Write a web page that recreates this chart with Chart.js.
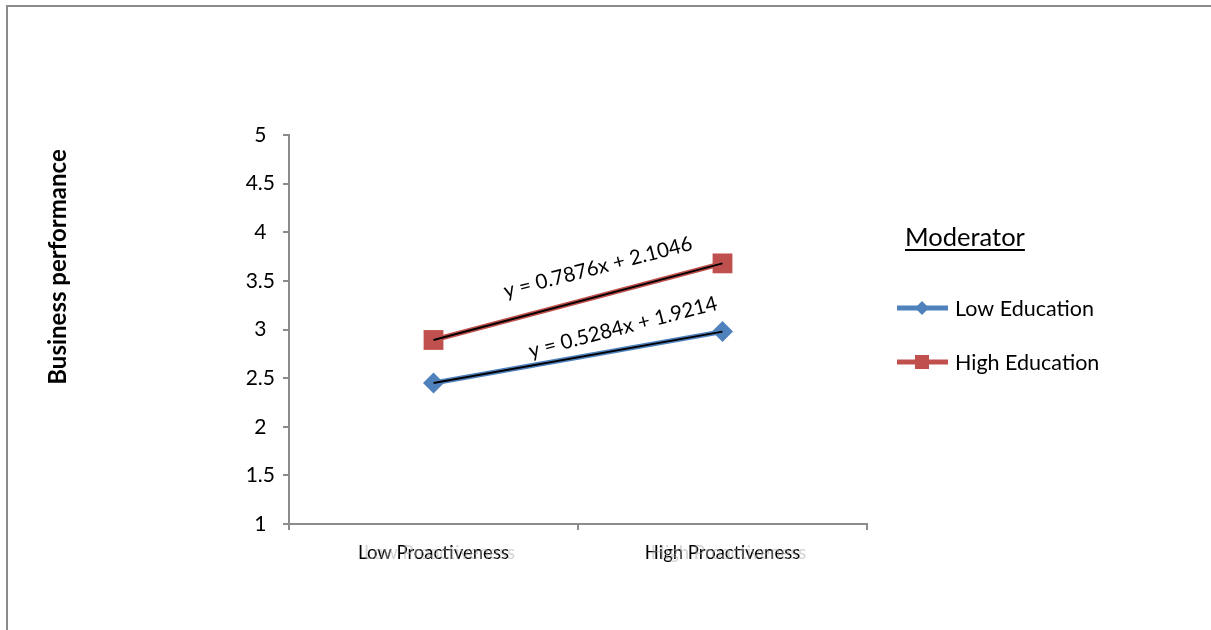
<!DOCTYPE html>
<html>
<head>
<meta charset="utf-8">
<script src="https://cdn.jsdelivr.net/npm/chart.js@4/dist/chart.umd.min.js"></script>
<style>
  html, body { margin: 0; padding: 0; background: #fff; overflow: hidden; }
  #wrap { position: relative; width: 1211px; height: 630px; }
  #frame { position: absolute; left: 6px; top: 5px; width: 1220px; height: 640px;
           border-top: 2px solid #8c8c8c; border-left: 2px solid #8c8c8c; box-sizing: border-box; }
  canvas { position: absolute; left: 0; top: 0; }
</style>
</head>
<body>
<div id="wrap">
  <div id="frame"></div>
  <canvas id="c" width="1211" height="630"></canvas>
</div>
<script>
const categories = ['Low Proactiveness', 'High Proactiveness'];
const lowEducation = [2.4498, 2.9782];
const highEducation = [2.8922, 3.6798];
const seriesNames = ['Low Education', 'High Education'];
const equations = ['y = 0.5284x + 1.9214', 'y = 0.7876x + 2.1046'];
const yMin = 1, yMax = 5, yStep = 0.5;

const FONT = 'Lato, "Open Sans", sans-serif';
const BLUE = '#4F81BD';
const RED = '#C0504D';
const X_LABEL_SIZE = 18.5;
const X_TICK_LEN = 6, X_TICK_PAD = 12;

// Extra drawing: axis title, ghosted category labels, equations and legend
const decor = {
  id: 'decor',
  beforeDatasetsDraw(chart) {
    // faint shadow copy of each category label, just right of the real one
    const ctx = chart.ctx;
    const x = chart.scales.x;
    const items = x.getLabelItems(chart.chartArea);
    ctx.save();
    items.forEach(it => {
      const o = it.options;
      ctx.font = it.font.string;
      ctx.fillStyle = 'rgba(170,170,170,0.5)';
      ctx.textAlign = o.textAlign;
      ctx.textBaseline = o.textBaseline;
      ctx.save();
      ctx.translate(o.translation[0] + 6, o.translation[1]);
      ctx.fillText(it.label, 0, it.textOffset || 0);
      ctx.restore();
    });
    ctx.restore();
  },
  afterDraw(chart) {
    const ctx = chart.ctx;
    const xs = chart.scales.x, ys = chart.scales.y;
    ctx.save();

    // y axis title
    ctx.save();
    ctx.translate(58, 267);
    ctx.rotate(-Math.PI / 2);
    ctx.font = 'bold 24px ' + FONT;
    ctx.fillStyle = '#000';
    ctx.textAlign = 'center';
    ctx.textBaseline = 'middle';
    ctx.fillText('Business performance', 0, 0);
    ctx.restore();

    // trend equations, placed above each line and rotated
    const sets = [lowEducation, highEducation];
    const offs = [{dx: 45, dy: -22}, {dx: 20, dy: -29}];
    sets.forEach((d, i) => {
      const x0 = xs.getPixelForValue(0), x1 = xs.getPixelForValue(1);
      const y0 = ys.getPixelForValue(d[0]), y1 = ys.getPixelForValue(d[1]);
      const mx = (x0 + x1) / 2 + offs[i].dx;
      const my = y0 + (y1 - y0) * ((mx - x0) / (x1 - x0)) + offs[i].dy;
      ctx.save();
      ctx.translate(mx, my);
      ctx.rotate(-14.5 * Math.PI / 180);
      ctx.font = '20.5px ' + FONT;
      ctx.fillStyle = '#000';
      ctx.textAlign = 'center';
      ctx.textBaseline = 'middle';
      ctx.fillText(equations[i], 0, 0);
      ctx.restore();
    });

    // legend
    ctx.font = '25.5px ' + FONT;
    ctx.fillStyle = '#000';
    ctx.textAlign = 'left';
    ctx.textBaseline = 'alphabetic';
    ctx.fillText('Moderator', 905, 246);
    const w = ctx.measureText('Moderator').width;
    ctx.fillRect(905, 249, w, 2);

    const items = [{y: 308, color: BLUE, shape: 'diamond'}, {y: 362, color: RED, shape: 'square'}];
    items.forEach((it, i) => {
      ctx.strokeStyle = it.color;
      ctx.lineWidth = 5;
      ctx.beginPath();
      ctx.moveTo(897, it.y);
      ctx.lineTo(948, it.y);
      ctx.stroke();
      ctx.fillStyle = it.color;
      ctx.beginPath();
      if (it.shape === 'diamond') {
        ctx.moveTo(922 - 7, it.y); ctx.lineTo(922, it.y - 7);
        ctx.lineTo(922 + 7, it.y); ctx.lineTo(922, it.y + 7);
        ctx.closePath();
      } else {
        ctx.rect(922 - 7, it.y - 7, 14, 14);
      }
      ctx.fill();
      ctx.fillStyle = '#000';
      ctx.font = '21.5px ' + FONT;
      ctx.textBaseline = 'middle';
      ctx.fillText(seriesNames[i], 955, it.y + 1);
    });
    ctx.restore();
  }
};

new Chart(document.getElementById('c'), {
  type: 'line',
  data: {
    labels: categories,
    datasets: [
      { label: seriesNames[0] + ' trend', data: lowEducation, borderColor: '#000', borderWidth: 2,
        pointRadius: 0, fill: false, order: 0 },
      { label: seriesNames[1] + ' trend', data: highEducation, borderColor: '#000', borderWidth: 2,
        pointRadius: 0, fill: false, order: 0 },
      { label: seriesNames[0], data: lowEducation, borderColor: BLUE, backgroundColor: BLUE,
        borderWidth: 5, pointStyle: 'rectRot', pointRadius: 10.5, pointBorderWidth: 0, fill: false, order: 1 },
      { label: seriesNames[1], data: highEducation, borderColor: RED, backgroundColor: RED,
        borderWidth: 5, pointStyle: 'rect', pointRadius: 14, pointBorderWidth: 0, fill: false, order: 1 }
    ]
  },
  options: {
    responsive: false,
    animation: false,
    layout: { padding: { top: 135, right: 344, bottom: 0, left: 0 } },
    plugins: { legend: { display: false }, tooltip: { enabled: false }, title: { display: false } },
    scales: {
      x: {
        type: 'category',
        offset: true,
        grid: { display: true, drawOnChartArea: false, drawTicks: true, tickLength: X_TICK_LEN,
                offset: true, color: '#8c8c8c', lineWidth: 2 },
        border: { display: true, color: '#8c8c8c', width: 2 },
        ticks: { color: '#000', font: { family: FONT, size: X_LABEL_SIZE }, padding: X_TICK_PAD, maxRotation: 0 },
        afterFit(s) { s.height = 106; }
      },
      y: {
        min: yMin, max: yMax,
        grid: { display: true, drawOnChartArea: false, drawTicks: true, tickLength: 6,
                color: '#8c8c8c', lineWidth: 2 },
        border: { display: true, color: '#8c8c8c', width: 2 },
        ticks: { stepSize: yStep, color: '#000', font: { family: FONT, size: 21 }, padding: 8,
                 crossAlign: 'center', callback: v => String(v) },
        afterFit(s) { s.width = 289; }
      }
    }
  },
  plugins: [decor]
});
</script>
</body>
</html>
